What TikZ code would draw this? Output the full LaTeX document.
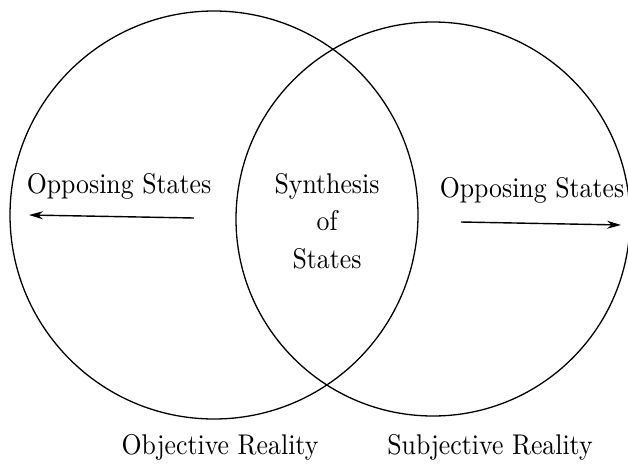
\documentclass[tikz,border=0pt]{standalone}
\usepackage{tikz}
\usetikzlibrary{positioning, shapes, arrows.meta}

\tikzset{
    texto/.style={xscale=2.58, yscale=2.85, font=\fontsize{10}{13.2}\selectfont},
    conjunto/.style={draw, circle, line width=1.3pt},
    flecha/.style={-{Stealth[length=14pt, width=8pt]}, line width=1.4pt}
}

\begin{document}
\begin{tikzpicture}[x=1pt, y=-1pt]
    \useasboundingbox (0,0) rectangle (628,463);

    \node[
        conjunto,
        minimum size=408pt] (Objetiva) at (214,215) {};
    \node[
        conjunto,
        minimum size=394pt] (Subjetiva) at (433,219) {};

    \node[texto, anchor=base] (OpIzq) at (119,193) {Opposing States};
    \node[texto, anchor=base] (OpDer) at (532,197) {Opposing States};
    \node[texto, align=center] (Sintesis) at (327,221) {Synthesis\\of\\States};

    \node[texto, anchor=base] (ObjLabel) at (220,454) {Objective Reality};
    \node[texto, anchor=base] (SubjLabel) at (490,454) {Subjective Reality};

    \coordinate (izqA) at (194,218);
    \coordinate (izqB) at (29,215);
    \coordinate (derA) at (461,222);
    \coordinate (derB) at (621,225);

    \draw[flecha] (izqA) -- (izqB);
    \draw[flecha] (derA) -- (derB);
\end{tikzpicture}
\end{document}
